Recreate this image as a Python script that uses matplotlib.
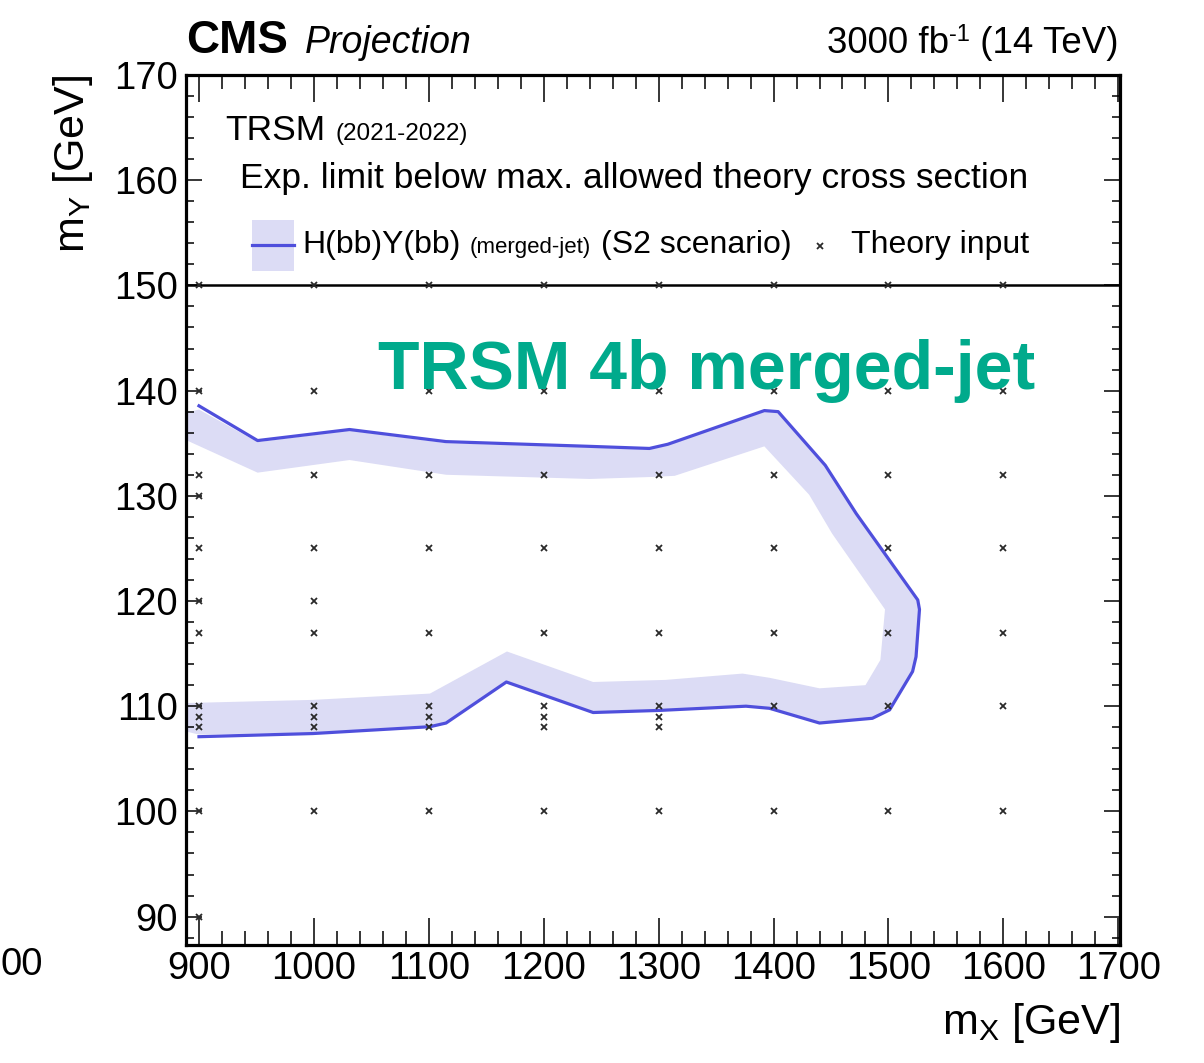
import matplotlib
matplotlib.use("Agg")
import matplotlib.pyplot as plt
from matplotlib.patches import Polygon, Rectangle
from matplotlib.lines import Line2D
from matplotlib.ticker import MultipleLocator

plt.rcParams['font.family'] = ['Liberation Sans', 'DejaVu Sans']
plt.rcParams['mathtext.default'] = 'regular'

# ---------------- data ----------------
# expected limit contour (blue line)
line_mx = [900, 951, 1031, 1115, 1240, 1292, 1308, 1392, 1404, 1445, 1472, 1525.5,
           1527, 1524, 1521, 1501, 1486, 1440, 1396.5, 1376, 1301, 1243, 1167.5,
           1115, 1101, 999, 900]
line_my = [138.55, 135.25, 136.3, 135.15, 134.7, 134.5, 134.9, 138.1, 138.0, 132.9,
           128.3, 120.1, 119.2, 114.7, 113.3, 109.65, 108.85, 108.4, 109.8, 110.0,
           109.6, 109.4, 112.3, 108.4, 108.05, 107.4, 107.1]

# uncertainty band: outer edge and inner edge
band_outer_mx = [888.7, 900, 951, 1031, 1115, 1240, 1292, 1308, 1392, 1404, 1445, 1472,
                 1525.5, 1527, 1524, 1521, 1501, 1486, 1440, 1396.5, 1376, 1301, 1243,
                 1167.5, 1115, 1101, 999, 900, 888.7]
band_outer_my = [137.9, 138.2, 135.1, 136.2, 135.0, 134.6, 134.4, 134.8, 138.0, 137.9,
                 132.8, 128.2, 120.1, 119.2, 114.7, 113.3, 109.7, 108.9, 108.5, 109.9,
                 110.1, 109.7, 109.5, 112.4, 108.5, 108.15, 107.5, 107.3, 107.6]
band_inner_mx = [888.7, 951, 1031, 1115, 1240, 1297, 1314, 1392, 1431, 1451, 1497, 1493,
                 1480, 1440, 1396.5, 1373, 1306, 1243, 1168, 1101, 999, 888.7]
band_inner_my = [135.3, 132.2, 133.4, 132.0, 131.6, 131.8, 131.9, 134.7, 130.1, 126.4,
                 119.2, 114.4, 112.0, 111.7, 112.7, 113.1, 112.5, 112.3, 115.2, 111.2,
                 110.6, 110.3]

# theory input grid points
theory_mx_values = [900, 1000, 1100, 1200, 1300, 1400, 1500, 1600]
theory_my_lists = [
    [90, 100, 108, 109, 110, 117, 120, 125, 130, 132, 140, 150],
    [100, 108, 109, 110, 117, 120, 125, 132, 140, 150],
    [100, 108, 109, 110, 117, 125, 132, 140, 150],
    [100, 108, 109, 110, 117, 125, 132, 140, 150],
    [100, 108, 109, 110, 117, 125, 132, 140, 150],
    [100, 110, 117, 125, 132, 140, 150],
    [100, 110, 117, 125, 132, 140, 150],
    [100, 110, 117, 125, 132, 140, 150],
]
theory_mx = []
theory_my = []
for mx, mys in zip(theory_mx_values, theory_my_lists):
    for my in mys:
        theory_mx.append(mx)
        theory_my.append(my)

x_ticks = [900, 1000, 1100, 1200, 1300, 1400, 1500, 1600, 1700]
y_ticks = [90, 100, 110, 120, 130, 140, 150, 160, 170]

# ---------------- style ----------------
LINE_C = '#4f4fdc'
BAND_C = '#dcdcf5'
GREEN = '#00aa8c'
MARK_C = '#2a2a2a'

W, H = 1204, 1063
fig = plt.figure(figsize=(W / 100, H / 100), dpi=100)
L, R, T, B = 186, 1120, 75, 945
ax = fig.add_axes([L / W, 1 - B / H, (R - L) / W, (B - T) / H])

# band
band_x = band_outer_mx + band_inner_mx[::-1]
band_y = band_outer_my + band_inner_my[::-1]
ax.add_patch(Polygon(list(zip(band_x, band_y)), closed=True, facecolor=BAND_C,
                     edgecolor='none', zorder=1))
ax.plot(line_mx, line_my, color=LINE_C, lw=2.3, zorder=2, solid_joinstyle='round')
ax.plot(theory_mx, theory_my, linestyle='none', marker='x', ms=4.5, mew=1.3,
        color=MARK_C, zorder=4)

ax.axhline(150, color='black', lw=1.8, zorder=3)

ax.set_xlim(888.7, 1701.5)
ax.set_ylim(87.3, 170)
ax.set_xticks(x_ticks)
ax.set_xticklabels([str(v) for v in x_ticks])
ax.set_yticks(y_ticks)
ax.set_yticklabels([str(v) for v in y_ticks])
ax.xaxis.set_minor_locator(MultipleLocator(20))
ax.yaxis.set_minor_locator(MultipleLocator(2))
ax.tick_params(axis='both', which='both', direction='in', top=True, right=True,
               labelsize=27.5, width=1.1, color='black')
ax.tick_params(axis='x', which='major', length=19.5, pad=4)
ax.tick_params(axis='x', which='minor', length=10)
ax.tick_params(axis='y', which='major', length=11.5, pad=6)
ax.tick_params(axis='y', which='minor', length=5.8)
for s in ax.spines.values():
    s.set_linewidth(2.3)

ax.set_xlabel(r'm$_{X}$ [GeV]', fontsize=31, loc='right')
ax.xaxis.set_label_coords(1.0, -0.064)
ax.set_ylabel(r'm$_{Y}$ [GeV]', fontsize=31, loc='top')
ax.yaxis.set_label_coords(-0.097, 1.0)

def axfx(px):
    return (px - L) / (R - L)

def axfy(py):
    return (B - py) / (B - T)

# header
ax.text(0.0, axfy(53), 'CMS', transform=ax.transAxes, fontsize=33,
        fontweight='bold', ha='left', va='baseline')
ax.text(axfx(305), axfy(53), 'Projection', transform=ax.transAxes, fontsize=27,
        style='italic', ha='left', va='baseline')
t_right = ax.text(axfx(1118), axfy(53), ' (14 TeV)', transform=ax.transAxes,
                  fontsize=26.5, ha='right', va='baseline')
fig.canvas.draw()
bb = t_right.get_window_extent()
t_sup = ax.text((bb.x0 - L) / (R - L), axfy(53) + 0.014, '-1', transform=ax.transAxes,
                fontsize=17, ha='right', va='baseline')
fig.canvas.draw()
bb2 = t_sup.get_window_extent()
ax.text((bb2.x0 - L) / (R - L), axfy(53), '3000 fb', transform=ax.transAxes,
        fontsize=26.5, ha='right', va='baseline')

# legend area
ax.text(axfx(225), axfy(140), 'TRSM', transform=ax.transAxes, fontsize=25.5,
        ha='left', va='baseline')
ax.text(axfx(335), axfy(140), '(2021-2022)', transform=ax.transAxes, fontsize=17.5,
        ha='left', va='baseline')
ax.text(axfx(240), axfy(188), 'Exp. limit below max. allowed theory cross section',
        transform=ax.transAxes, fontsize=25.5, ha='left', va='baseline')
ax.add_patch(Rectangle((axfx(252), axfy(271)), axfx(294) - axfx(252),
                       axfy(220) - axfy(271), transform=ax.transAxes,
                       facecolor=BAND_C, edgecolor='none', zorder=5))
ax.add_line(Line2D([axfx(252), axfx(294)], [axfy(245), axfy(245)],
                   transform=ax.transAxes, color=LINE_C, lw=2.3, zorder=6))
ax.text(axfx(302), axfy(253), 'H(bb)Y(bb)', transform=ax.transAxes, fontsize=23,
        ha='left', va='baseline')
ax.text(axfx(470), axfy(253), '(merged-jet)', transform=ax.transAxes, fontsize=16,
        ha='left', va='baseline')
ax.text(axfx(601), axfy(253), '(S2 scenario)', transform=ax.transAxes, fontsize=23,
        ha='left', va='baseline')
ax.add_line(Line2D([axfx(820)], [axfy(246)], transform=ax.transAxes, linestyle='none',
                   marker='x', ms=4.5, mew=1.3, color=MARK_C, zorder=6))
ax.text(axfx(851), axfy(253), 'Theory input', transform=ax.transAxes, fontsize=23,
        ha='left', va='baseline')

# overlay title
ax.text(axfx(378), axfy(389), 'TRSM 4b merged-jet', transform=ax.transAxes,
        fontsize=49, fontweight='bold', color=GREEN, ha='left', va='baseline', zorder=7)

# leftover label fragment at the far left edge of the reference
fig.text(1 / W, 1 - 965 / H, '00', fontsize=27.5, ha='left', va='center')

fig.savefig('out.png', dpi=100)
